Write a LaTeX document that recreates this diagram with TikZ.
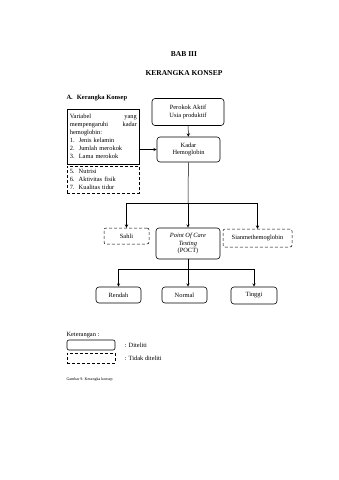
\documentclass[tikz,border=0pt]{standalone}
\usepackage{fontspec}
\setmainfont{Liberation Serif}
\usetikzlibrary{arrows, positioning, calc}
\tikzstyle{diteliti} = [rectangle, rounded corners=3pt, align=center, draw=black, line width=0.6pt, inner sep=1pt]
\tikzstyle{tidak} = [rectangle, rounded corners=2pt, align=center, draw=black, densely dashed, line width=0.5pt, inner sep=1pt]
\tikzstyle{listbox} = [rectangle, draw=black, line width=0.6pt, inner sep=2pt, anchor=north west, text width=67, font=\fontsize{6.4}{8}\selectfont]
\tikzstyle{arrow} = [line width=0.5pt,->,>=stealth]

\begin{document}
\begin{tikzpicture}[x=1pt, y=-1pt, node distance=1.3cm, font=\fontsize{6.4}{7.5}\selectfont]
    \useasboundingbox (0,0) rectangle (339,480);
    \node (bab) at (184,54) {\fontsize{7.5}{9}\selectfont\bfseries BAB III};
    \node (judul) at (184,73) {\fontsize{7.5}{9}\selectfont\bfseries KERANGKA KONSEP};
    \node (subjudul) [anchor=west] at (63,98) {\fontsize{6.5}{8}\selectfont\bfseries A.\hspace{4pt}Kerangka Konsep};

    \node (perokok) [diteliti, minimum width=72, minimum height=27] at (188,112) {Perokok Aktif\\Usia produktif};
    \node (kadar) [diteliti, minimum width=63, minimum height=25] at (188.5,149.5) {Kadar\\Hemoglobin};
    \node (variabel) [listbox, minimum width=72, minimum height=55] at (67,109)
        {Variabel \hfill yang\\
         mempengaruhi \hfill kadar\\
         hemoglobin:\\
         \makebox[9pt][l]{1.}Jenis kelamin\\
         \makebox[9pt][l]{2.}Jumlah merokok\\
         \makebox[9pt][l]{3.}Lama merokok};
    \node (faktor) [listbox, densely dashed, line width=0.5pt, minimum width=72, minimum height=27] at (67,166)
        {\makebox[9pt][l]{5.}Nutrisi\\
         \makebox[9pt][l]{6.}Aktivitas fisik\\
         \makebox[9pt][l]{7.}Kualitas tidur};

    \node (sahli) [tidak, minimum width=45, minimum height=16] at (126.5,236) {Sahli};
    \node (poct) [diteliti, minimum width=64, minimum height=31] at (188,243.5) {\textit{Point Of Care}\\\textit{Testing}\\(POCT)};
    \node (sianmet) [tidak, minimum width=69, minimum height=18] at (257.5,238) {Sianmethemoglobin};

    \node (rendah) [diteliti, minimum width=45, minimum height=16] at (118.5,295) {Rendah};
    \node (normal) [diteliti, minimum width=45, minimum height=16] at (184.5,295) {Normal};
    \node (tinggi) [diteliti, minimum width=46, minimum height=17] at (254,295.5) {Tinggi};

    \coordinate (cabang1) at (188,203);
    \coordinate (cabang2) at (188,269);

    \draw [arrow] (perokok) -- (kadar);
    \draw [arrow] (variabel.east |- kadar) -- (kadar);
    \draw [line width=0.5pt] (kadar) -- (cabang1);
    \draw [arrow] (cabang1) -| (sahli);
    \draw [arrow] (cabang1) -- (poct);
    \draw [arrow] (cabang1) -| (sianmet);
    \draw [line width=0.5pt] (poct) -- (cabang2);
    \draw [arrow] (cabang2) -| (rendah);
    \draw [arrow] (cabang2) -- (cabang2 |- normal.north);
    \draw [arrow] (cabang2) -| (tinggi);

    % keterangan
    \node (ket) [anchor=west] at (63,335) {Keterangan :};
    \node (ketditeliti) [diteliti, rounded corners=2pt, minimum width=48, minimum height=10] at (91,345) {};
    \node (kettidak) [tidak, rounded corners=0pt, minimum width=48, minimum height=10] at (91,358) {};
    \node (labditeliti) [anchor=west, right=6pt of ketditeliti] {: Diteliti};
    \node (labtidak) [anchor=west, right=6pt of kettidak] {: Tidak diteliti};
    \node (gambar) [anchor=west] at (63,380) {\fontsize{4}{5}\selectfont Gambar 9. Kerangka konsep};
\end{tikzpicture}
\end{document}
